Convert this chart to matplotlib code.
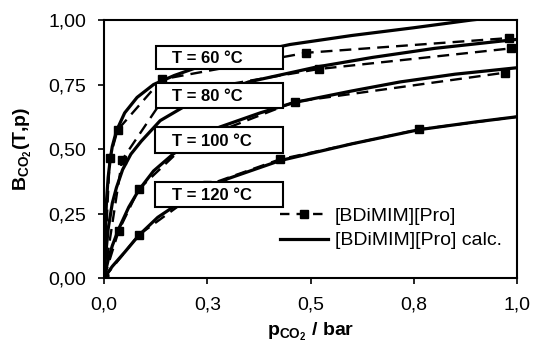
import numpy as np
import matplotlib
matplotlib.use('Agg')
import matplotlib.pyplot as plt
from matplotlib.patches import Rectangle
from matplotlib.lines import Line2D

plt.rcParams['font.family'] = ['Liberation Sans', 'DejaVu Sans']
plt.rcParams['mathtext.fontset'] = 'custom'
plt.rcParams['mathtext.rm'] = 'Liberation Sans'
plt.rcParams['mathtext.bf'] = 'Liberation Sans:bold'
font = {'size': 14}
plt.rc('font', **font)

# measured points
p60 = [0, 0.0138, 0.033, 0.14, 0.49, 0.98]
b60 = [0, 0.464, 0.574, 0.77, 0.873, 0.93]
p80 = [0, 0.0436, 0.15, 0.52, 0.985]
b80 = [0, 0.457, 0.71, 0.81, 0.89]
p100 = [0, 0.0355, 0.084, 0.2, 0.462, 0.971]
b100 = [0, 0.183, 0.344, 0.52, 0.683, 0.796]
p120 = [0, 0.084, 0.25, 0.426, 0.763, 1.0]
b120 = [0, 0.167, 0.36, 0.46, 0.576, 0.625]

# calculated curves
pc60 = [0, 0.003, 0.006, 0.01, 0.015, 0.02, 0.03, 0.05, 0.08, 0.12, 0.17, 0.25, 0.35, 0.45, 0.6, 0.75, 0.89, 1.0]
bc60 = [0, 0.18, 0.3, 0.39, 0.46, 0.51, 0.57, 0.64, 0.7, 0.75, 0.785, 0.83, 0.87, 0.905, 0.94, 0.97, 1.0, 1.02]
pc80 = [0, 0.004, 0.01, 0.02, 0.03, 0.045, 0.065, 0.09, 0.136, 0.2, 0.35, 0.515, 0.65, 0.8, 1.0]
bc80 = [0, 0.09, 0.19, 0.29, 0.35, 0.42, 0.48, 0.53, 0.61, 0.67, 0.76, 0.818, 0.855, 0.89, 0.925]
pc100 = [0, 0.01, 0.02, 0.0355, 0.06, 0.084, 0.12, 0.167, 0.22, 0.28, 0.378, 0.46, 0.6, 0.717, 0.85, 1.0]
bc100 = [0, 0.07, 0.125, 0.19, 0.275, 0.34, 0.415, 0.48, 0.54, 0.585, 0.64, 0.68, 0.725, 0.76, 0.79, 0.815]
pc120 = [0, 0.02, 0.05, 0.084, 0.13, 0.2, 0.3, 0.426, 0.6, 0.763, 0.9, 1.0]
bc120 = [0, 0.045, 0.1, 0.165, 0.235, 0.31, 0.385, 0.455, 0.52, 0.575, 0.605, 0.625]

labels = ['T = 60 °C', 'T = 80 °C', 'T = 100 °C', 'T = 120 °C']
xticks = [0, 0.25, 0.5, 0.75, 1.0]
xticklabels = ['0,0', '0,3', '0,5', '0,8', '1,0']
yticks = [0, 0.25, 0.5, 0.75, 1.0]
yticklabels = ['0,00', '0,25', '0,50', '0,75', '1,00']

fig = plt.figure(figsize=(5.34, 3.45), dpi=100)
ax = fig.add_axes([0.1948, 0.1942, 0.7734, 0.7478])

meas = [(p60, b60), (p80, b80), (p100, b100), (p120, b120)]
calc = [(pc60, bc60), (pc80, bc80), (pc100, bc100), (pc120, bc120)]

for px, py in calc:
    ax.plot(px, py, color='black', lw=2.3, solid_capstyle='round', zorder=2)
for px, py in meas:
    ax.plot(px, py, color='black', lw=1.7, dashes=(5, 3), marker='s', ms=5.5,
            markevery=list(range(len(px) - 1)) if px[-1] >= 1.0 else None, zorder=3)

# label boxes
boxes = [(0.126, 0.81, 0.899), (0.126, 0.659, 0.756), (0.123, 0.484, 0.585), (0.123, 0.275, 0.372)]
for (x0, y0, y1), lab in zip(boxes, labels):
    r = Rectangle((x0, y0), 0.433 - x0, y1 - y0, transform=ax.transAxes,
                  facecolor='white', edgecolor='black', lw=1.5, zorder=5)
    ax.add_patch(r)
    ax.text(0.165, (y0 + y1) / 2 - 0.005, lab, transform=ax.transAxes, fontweight='bold',
            fontsize=12, va='center', ha='left', zorder=6)

ax.set_xlim(0, 1.0)
ax.set_ylim(0, 1.0)
ax.set_xticks(xticks)
ax.set_xticklabels(xticklabels)
ax.set_yticks(yticks)
ax.set_yticklabels(yticklabels)
ax.tick_params(direction='out', length=4, width=1.2, labelsize=14)
ax.tick_params(axis='x', pad=9)
ax.tick_params(axis='y', pad=9)
for s in ax.spines.values():
    s.set_linewidth(1.5)

ax.set_xlabel(r'$\mathbf{p_{CO_2}}$' + ' / bar', fontweight='bold', fontsize=14, labelpad=6)
ax.set_ylabel(r'$\mathbf{B_{CO_2}}$' + '(T,p)', fontweight='bold', fontsize=14, labelpad=10)

h1 = Line2D([], [], color='black', lw=1.7, dashes=(4, 3), marker='s', ms=5.5)
h2 = Line2D([], [], color='black', lw=2.3)
ax.legend([h1, h2], ['[BDiMIM][Pro]', '[BDiMIM][Pro] calc.'], loc='center left',
          bbox_to_anchor=(0.425, 0.192), frameon=False, handlelength=2.5, handletextpad=0.35,
          labelspacing=0.35, borderpad=0, borderaxespad=0, fontsize=14)

plt.savefig('out.png', dpi=100)
